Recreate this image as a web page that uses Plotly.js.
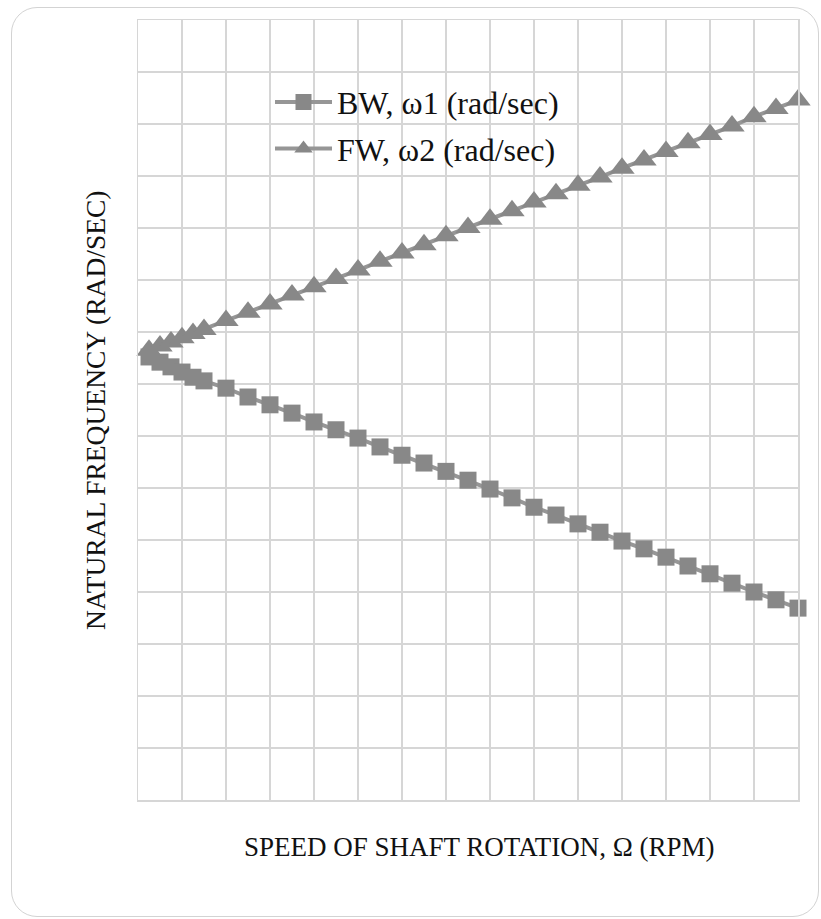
<!DOCTYPE html>
<html>
<head>
<meta charset="utf-8">
<script src="https://cdn.plot.ly/plotly-3.0.1.min.js"></script>
<style>
html,body{margin:0;padding:0;background:#fff;}
#wrap{position:relative;width:821px;height:919px;overflow:hidden;}
#chart{position:absolute;left:0;top:0;width:821px;height:919px;}
#frame{position:absolute;left:11px;top:7px;width:806px;height:908px;border:1.5px solid #d3d3d3;border-radius:26px;pointer-events:none;}
</style>
</head>
<body>
<div id="wrap"><div id="chart"></div><div id="frame"></div></div>
<script>
// Speed of shaft rotation (RPM)
const speedRPM = [250,500,750,1000,1250,1500,2000,2500,3000,3500,4000,4500,5000,5500,6000,6500,7000,7500,8000,8500,9000,9500,10000,10500,11000,11500,12000,12500,13000,13500,14000,14500,15000];
// Backward whirl natural frequency (rad/sec)
const bwOmega1 = [852,842,833,823,813,806,792,775,760,744,727,712,696,679,663,648,632,615,598,581,563,548,531,515,498,483,467,450,435,417,400,385,369];
// Forward whirl natural frequency (rad/sec)
const fwOmega2 = [865,873,881,889,897,905,922,938,954,971,987,1003,1019,1036,1052,1068,1085,1101,1117,1133,1150,1166,1182,1198,1215,1231,1247,1264,1280,1296,1314,1330,1346];
const seriesNames = ['BW, ω1 (rad/sec)', 'FW, ω2 (rad/sec)'];
const xTitle = 'SPEED OF SHAFT ROTATION, Ω (RPM)';
const yTitle = 'NATURAL FREQUENCY (RAD/SEC)';

const lineCol = '#969696';
const markCol = '#888888';
const gridCol = '#d6d6d6';
const serif = "Liberation Serif, Times New Roman, Times, serif";

const traces = [
  {x: speedRPM, y: bwOmega1, name: seriesNames[0], type: 'scatter', mode: 'lines+markers',
   legendgroup: 'a', cliponaxis: false,
   line: {color: lineCol, width: 4}, marker: {symbol: 'square', size: 17, color: markCol}},
  {x: speedRPM, y: fwOmega2, name: seriesNames[1], type: 'scatter', mode: 'lines+markers',
   legendgroup: 'b', cliponaxis: false,
   line: {color: lineCol, width: 4}, marker: {symbol: 'triangle-up', size: 22, color: markCol}}
];

const layout = {
  width: 821, height: 919,
  margin: {l: 138, r: 23, t: 20, b: 119},
  paper_bgcolor: 'rgba(0,0,0,0)', plot_bgcolor: '#fff',
  showlegend: true,
  font: {family: serif},
  legend: {x: 0.2, y: 0.93, xanchor: 'left', yanchor: 'top', bgcolor: 'rgba(0,0,0,0)',
    font: {family: serif, size: 32, color: '#111'}, traceorder: 'grouped', tracegroupgap: 2,
    itemwidth: 57},
  xaxis: {range: [0, 15000], dtick: 1000, tick0: 0, showticklabels: false, ticks: '',
    showgrid: true, gridcolor: gridCol, gridwidth: 1.5, zeroline: false,
    showline: true, mirror: true, linecolor: gridCol, linewidth: 1.5, fixedrange: true},
  yaxis: {range: [0, 1500], dtick: 100, tick0: 0, showticklabels: false, ticks: '',
    showgrid: true, gridcolor: gridCol, gridwidth: 1.5, zeroline: false,
    showline: true, mirror: true, linecolor: gridCol, linewidth: 1.5, fixedrange: true},
  annotations: [
    {text: xTitle, xref: 'paper', yref: 'paper', x: 0.5, y: 0, xshift: 11, yshift: -47,
     xanchor: 'center', yanchor: 'middle', showarrow: false,
     font: {family: serif, size: 27, color: '#111'}},
    {text: yTitle, xref: 'paper', yref: 'paper', x: 0, y: 0.5, xshift: -43,
     xanchor: 'center', yanchor: 'middle', showarrow: false, textangle: -90,
     font: {family: serif, size: 27.5, color: '#111'}}
  ]
};

Plotly.newPlot('chart', traces, layout, {displayModeBar: false, staticPlot: true});
</script>
</body>
</html>
